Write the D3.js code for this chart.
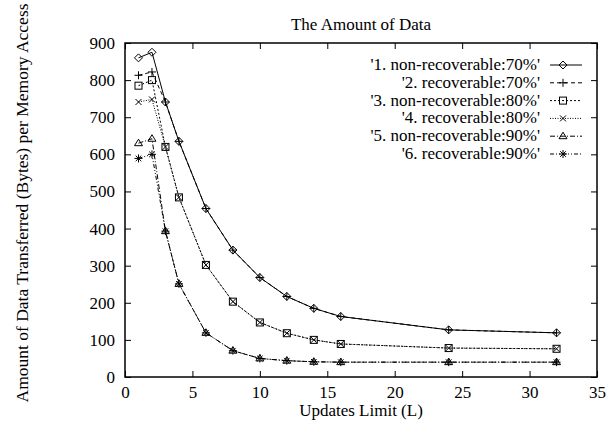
<!DOCTYPE html>
<html>
<head>
<meta charset="utf-8">
<script src="https://d3js.org/d3.v7.min.js"></script>
<style>
  body { margin: 0; background: #fff; }
  text { font-family: "Liberation Serif", "Times New Roman", serif; fill: #000; }
</style>
</head>
<body>
<div id="chart"></div>
<script>
// data
var limits = [1, 2, 3, 4, 6, 8, 10, 12, 14, 16, 24, 32];
var nonRec70 = [860, 875, 741, 635, 454, 342, 268, 217, 185, 163, 127, 119];
var rec70    = [813, 822, 741, 635, 454, 342, 268, 217, 185, 163, 127, 119];
var nonRec80 = [785, 800, 620, 484, 302, 203, 147, 118, 100, 89, 78, 76];
var rec80    = [741, 748, 620, 484, 302, 203, 147, 118, 100, 89, 78, 76];
var nonRec90 = [630, 642, 393, 251, 119, 71, 50, 44, 41, 40, 40, 40];
var rec90    = [589, 600, 393, 251, 119, 71, 50, 44, 41, 40, 40, 40];
var seriesNames = ["'1. non-recoverable:70%'", "'2. recoverable:70%'", "'3. non-recoverable:80%'",
                   "'4. recoverable:80%'", "'5. non-recoverable:90%'", "'6. recoverable:90%'"];
var xTicks = [0, 5, 10, 15, 20, 25, 30, 35];
var yTicks = [0, 100, 200, 300, 400, 500, 600, 700, 800, 900];

var series = [nonRec70, rec70, nonRec80, rec80, nonRec90, rec90];
var dashes = ["none", "4,3", "2,2", "1,1.5", "5,2,1,2", "4,2,1,2,1,2"];
var markers = ["diamond", "plus", "square", "cross", "triangle", "star"];

var width = 606, height = 422;
var margin = {left: 125, right: 9, top: 43, bottom: 45};
var font = "'Liberation Serif', 'Times New Roman', serif";
var fs = 17;

var svg = d3.select("#chart").append("svg")
  .attr("width", width).attr("height", height);

var x = d3.scaleLinear().domain([0, 35]).range([margin.left, width - margin.right]);
var y = d3.scaleLinear().domain([0, 900]).range([height - margin.bottom, margin.top]);

// frame
svg.append("rect")
  .attr("x", x(0)).attr("y", y(900))
  .attr("width", x(35) - x(0)).attr("height", y(0) - y(900))
  .attr("fill", "none").attr("stroke", "#000").attr("stroke-width", 1.5);

// axes, ticks pointing in, mirrored
var tickLen = 6;
function styleAxis(g) {
  g.select(".domain").remove();
  g.attr("font-family", font).attr("font-size", fs);
  g.selectAll(".tick line").attr("stroke", "#000");
}
svg.append("g").attr("transform", "translate(0," + y(0) + ")")
  .call(d3.axisBottom(x).tickValues(xTicks).tickSizeInner(-tickLen).tickSizeOuter(0).tickPadding(9))
  .call(styleAxis);
svg.append("g").attr("transform", "translate(0," + y(900) + ")")
  .call(d3.axisTop(x).tickValues(xTicks).tickSizeInner(-tickLen).tickSizeOuter(0).tickFormat(""))
  .call(styleAxis);
svg.append("g").attr("transform", "translate(" + x(0) + ",0)")
  .call(d3.axisLeft(y).tickValues(yTicks).tickSizeInner(-tickLen).tickSizeOuter(0).tickPadding(10))
  .call(styleAxis);
svg.append("g").attr("transform", "translate(" + x(35) + ",0)")
  .call(d3.axisRight(y).tickValues(yTicks).tickSizeInner(-tickLen).tickSizeOuter(0).tickFormat(""))
  .call(styleAxis);

// titles
svg.append("text").attr("x", (x(0) + x(35)) / 2).attr("y", 30)
  .attr("text-anchor", "middle").style("font-size", fs + "px").text("The Amount of Data");
svg.append("text").attr("x", (x(0) + x(35)) / 2).attr("y", 416)
  .attr("text-anchor", "middle").style("font-size", fs + "px").text("Updates Limit (L)");
svg.append("text")
  .attr("transform", "translate(28,203) rotate(-90)")
  .attr("text-anchor", "middle").style("font-size", "17.5px")
  .text("Amount of Data Transferred (Bytes) per Memory Access");

function drawMarker(g, type, cx, cy) {
  var s = 4;
  if (type === "diamond") {
    g.append("path").attr("d", "M" + cx + "," + (cy - s) + "L" + (cx + s) + "," + cy +
      "L" + cx + "," + (cy + s) + "L" + (cx - s) + "," + cy + "Z")
      .attr("fill", "none").attr("stroke", "#000");
  } else if (type === "plus") {
    g.append("path").attr("d", "M" + (cx - s) + "," + cy + "H" + (cx + s) + "M" + cx + "," + (cy - s) + "V" + (cy + s))
      .attr("stroke", "#000");
  } else if (type === "square") {
    g.append("rect").attr("x", cx - 3.5).attr("y", cy - 3.5).attr("width", 7).attr("height", 7)
      .attr("fill", "none").attr("stroke", "#000");
  } else if (type === "cross") {
    g.append("path").attr("d", "M" + (cx - 3) + "," + (cy - 3) + "L" + (cx + 3) + "," + (cy + 3) +
      "M" + (cx + 3) + "," + (cy - 3) + "L" + (cx - 3) + "," + (cy + 3))
      .attr("stroke", "#000");
  } else if (type === "triangle") {
    g.append("path").attr("d", "M" + cx + "," + (cy - s) + "L" + (cx + s) + "," + (cy + 2.5) +
      "L" + (cx - s) + "," + (cy + 2.5) + "Z")
      .attr("fill", "none").attr("stroke", "#000");
  } else if (type === "star") {
    g.append("path").attr("d", "M" + (cx - s) + "," + cy + "H" + (cx + s) + "M" + cx + "," + (cy - s) + "V" + (cy + s) +
      "M" + (cx - 2.8) + "," + (cy - 2.8) + "L" + (cx + 2.8) + "," + (cy + 2.8) +
      "M" + (cx + 2.8) + "," + (cy - 2.8) + "L" + (cx - 2.8) + "," + (cy + 2.8))
      .attr("stroke", "#000");
  }
}

var line = d3.line()
  .x(function(d) { return x(d[0]); })
  .y(function(d) { return y(d[1]); });

series.forEach(function(vals, i) {
  var pts = limits.map(function(l, j) { return [l, vals[j]]; });
  var g = svg.append("g");
  g.append("path").attr("d", line(pts))
    .attr("fill", "none").attr("stroke", "#000").attr("stroke-width", 1)
    .attr("stroke-dasharray", dashes[i]);
  pts.forEach(function(p) { drawMarker(g, markers[i], x(p[0]), y(p[1])); });

  // legend entry
  var ly = 65 + i * 17.8;
  svg.append("text").attr("x", 540).attr("y", ly + 5)
    .attr("text-anchor", "end").style("font-size", fs + "px").text(seriesNames[i]);
  g.append("line").attr("x1", 550).attr("x2", 582).attr("y1", ly).attr("y2", ly)
    .attr("stroke", "#000").attr("stroke-dasharray", dashes[i]);
  drawMarker(g, markers[i], 563, ly);
});
</script>
</body>
</html>
